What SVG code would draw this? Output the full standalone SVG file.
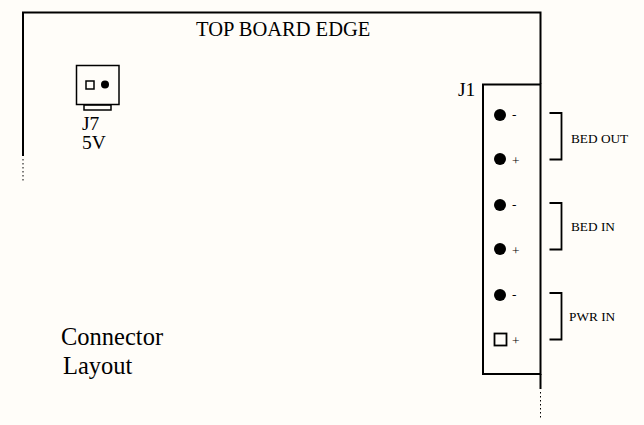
<svg xmlns="http://www.w3.org/2000/svg" width="644" height="425" viewBox="0 0 644 425">
<style>
.bg{fill:#fffdf9}
.l{fill:none;stroke:#000;stroke-width:2}
.t{fill:none;stroke:#000;stroke-width:1.800}
.d{fill:none;stroke:#000;stroke-width:1;stroke-dasharray:1.5 2.5}
.w{fill:#fffdf9;stroke:#000;stroke-width:1.500}
.p{fill:#000}
text{font-family:"Liberation Serif","Times New Roman",serif;fill:#000}
.s{font-size:13.300px}
.m{font-size:19.500px}
.b{font-size:24.500px}
</style>
<rect class="bg" width="644" height="425"/>
<g id="connectors">
<path class="l" d="M23 156V12.500H540.500V84"/>
<path class="d" d="M23 159V182"/>
<path class="l" d="M540.500 374V389"/>
<path class="d" d="M540.500 392V420"/>
<path class="t" d="M549.500 113H561.500V159.500H549.500"/>
<path class="t" d="M549.500 203H561.500V249.500H549.500"/>
<path class="t" d="M549.500 293H561.500V339.500H549.500"/>
</g>
<g id="title"><text class="m" x="196" y="36" style="font-size:20.500px">TOP BOARD EDGE</text></g>
<g id="J7">
<rect class="w" x="84" y="105" width="27" height="5"/>
<rect class="w" x="76.500" y="65.500" width="42.500" height="39"/>
<rect class="w" x="86" y="81" width="8" height="8"/>
<circle class="p" cx="105" cy="84.500" r="4"/>
<text class="m" x="82" y="130">J7</text>
<text class="m" x="82" y="149">5V</text>
</g>
<g id="J1">
<rect class="l" x="483" y="84.500" width="57.500" height="289.500"/>
<circle class="p" cx="500" cy="115" r="6"/>
<circle class="p" cx="500" cy="159" r="6"/>
<circle class="p" cx="500" cy="205" r="6"/>
<circle class="p" cx="500" cy="249" r="6"/>
<circle class="p" cx="500" cy="295" r="6"/>
<rect class="w" x="494.500" y="333.500" width="12" height="12" style="stroke-width:1.800"/>
<text class="s" x="512" y="119">-</text>
<text class="s" x="512" y="165">+</text>
<text class="s" x="512" y="209">-</text>
<text class="s" x="512" y="255">+</text>
<text class="s" x="512" y="299">-</text>
<text class="s" x="512" y="345">+</text>
<text class="m" x="458" y="96">J1</text>
</g>
<g id="labels">
<text class="s" x="571" y="143">BED OUT</text>
<text class="s" x="571" y="231">BED IN</text>
<text class="s" x="569" y="321">PWR IN</text>
<text class="b" x="61" y="345">Connector</text>
<text class="b" x="63" y="374">Layout</text>
</g>
</svg>
